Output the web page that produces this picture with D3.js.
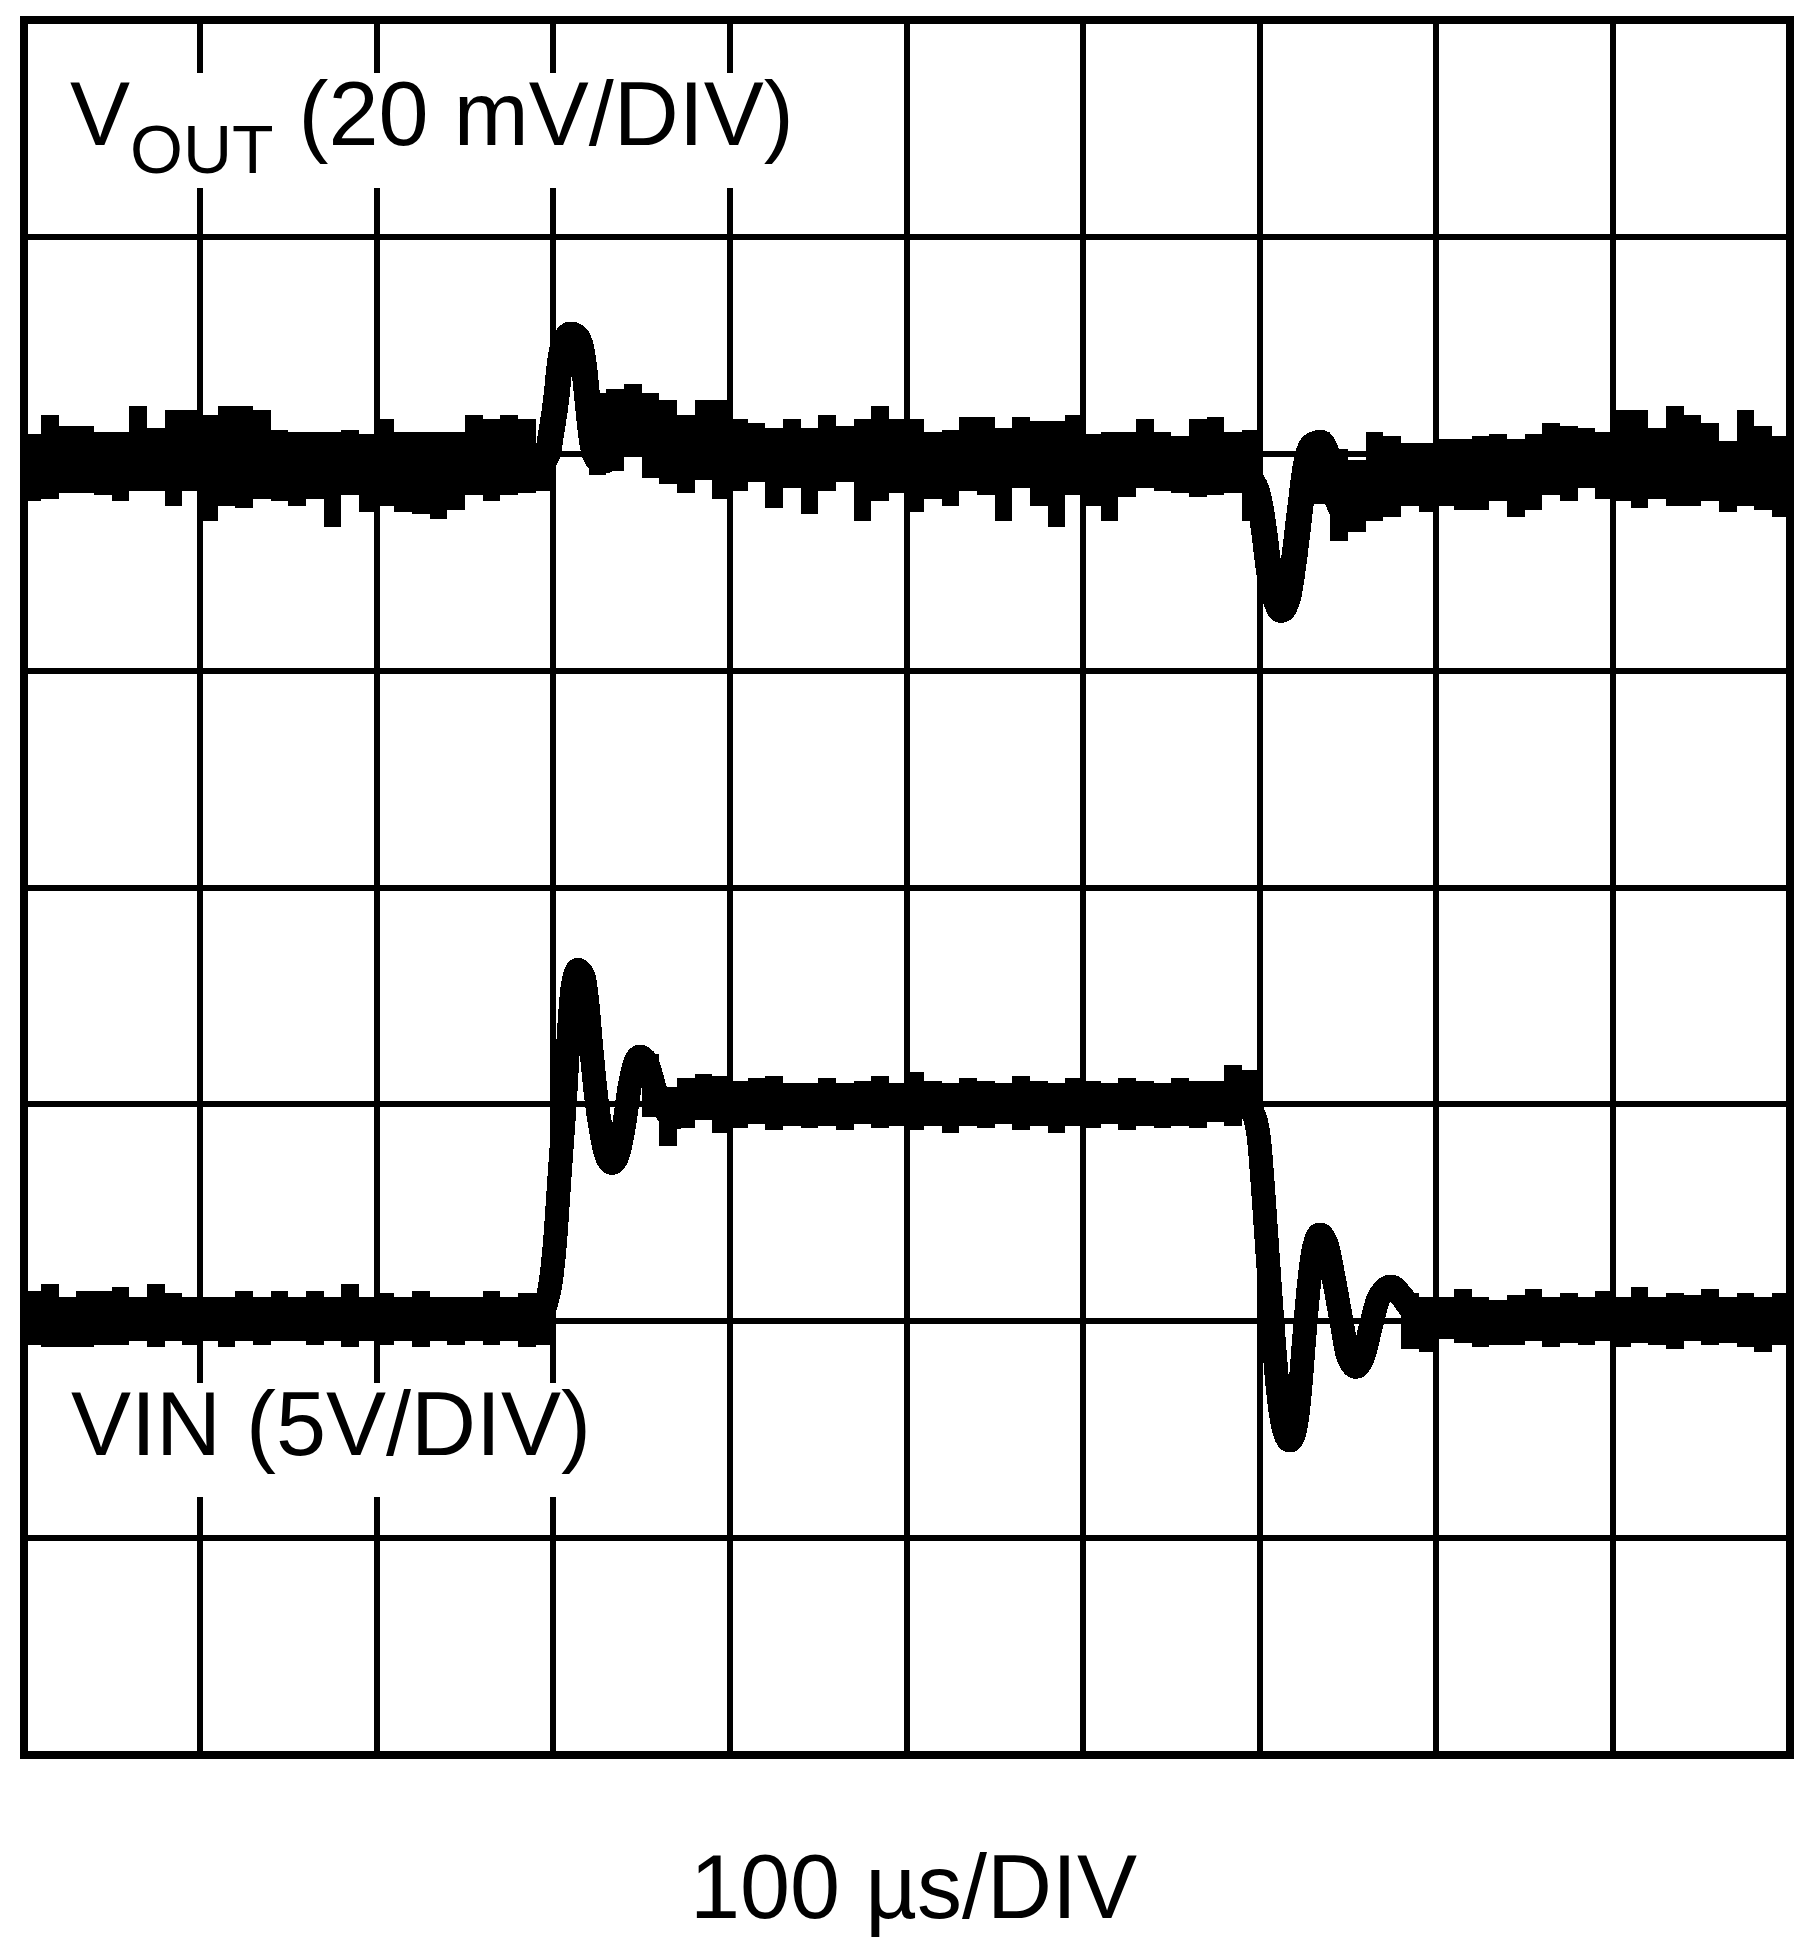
<!DOCTYPE html>
<html lang="en">
<head>
<meta charset="utf-8">
<title>Line transient response</title>
<script src="https://cdn.jsdelivr.net/npm/d3@7/dist/d3.min.js"></script>
<style>
  html, body { margin: 0; padding: 0; background: #fff; }
  svg { display: block; }
  text { font-family: "Liberation Sans", Arial, Helvetica, sans-serif; fill: #000; }
</style>
</head>
<body>
<div id="scope"></div>
<script>
// scope screen: 10 x 8 divisions. time in us (100 us/DIV), level in divisions from centre
var gridTimes = [100, 200, 300, 400, 500, 600, 700, 800, 900];
var gridLevels = [-3, -2, -1, 0, 1, 2, 3];

// VOUT noise band, 10 us bins: [t, top, bottom] (null = only the transient line there)
var voutBand = [
  [0, 2.09, 1.78], [10, 2.18, 1.79], [20, 2.13, 1.82], [30, 2.13, 1.82], [40, 2.10, 1.81],
  [50, 2.10, 1.78], [60, 2.22, 1.83], [70, 2.12, 1.83], [80, 2.20, 1.76], [90, 2.20, 1.83],
  [100, 2.18, 1.69], [110, 2.22, 1.76], [120, 2.22, 1.75], [130, 2.20, 1.79], [140, 2.11, 1.78],
  [150, 2.10, 1.76], [160, 2.10, 1.79], [170, 2.10, 1.66], [180, 2.11, 1.81], [190, 2.09, 1.73],
  [200, 2.16, 1.76], [210, 2.10, 1.73], [220, 2.10, 1.72], [230, 2.10, 1.70], [240, 2.10, 1.74],
  [250, 2.18, 1.81], [260, 2.16, 1.78], [270, 2.18, 1.81], [280, 2.16, 1.82], [290, 2.04, 1.83],
  [300, null, null], [310, null, null], [320, 2.28, 1.90], [330, 2.30, 1.92], [340, 2.32, 1.99],
  [350, 2.28, 1.89], [360, 2.25, 1.86], [370, 2.18, 1.82], [380, 2.25, 1.88], [390, 2.25, 1.79],
  [400, 2.16, 1.83], [410, 2.14, 1.87], [420, 2.12, 1.75], [430, 2.16, 1.84], [440, 2.12, 1.72],
  [450, 2.18, 1.83], [460, 2.13, 1.87], [470, 2.16, 1.69], [480, 2.22, 1.78], [490, 2.16, 1.82],
  [500, 2.16, 1.73], [510, 2.10, 1.79], [520, 2.11, 1.76], [530, 2.17, 1.83], [540, 2.17, 1.81],
  [550, 2.12, 1.69], [560, 2.17, 1.84], [570, 2.15, 1.76], [580, 2.15, 1.66], [590, 2.18, 1.81],
  [600, 2.09, 1.76], [610, 2.10, 1.69], [620, 2.10, 1.80], [630, 2.16, 1.84], [640, 2.10, 1.83],
  [650, 2.08, 1.82], [660, 2.16, 1.80], [670, 2.17, 1.81], [680, 2.10, 1.82], [690, 2.11, 1.69],
  [700, null, null], [710, null, null], [720, null, null], [730, 2.10, 1.77], [740, 2.02, 1.60],
  [750, 1.97, 1.64], [760, 2.10, 1.69], [770, 2.08, 1.71], [780, 2.05, 1.76], [790, 2.05, 1.73],
  [800, 2.07, 1.76], [810, 2.07, 1.74], [820, 2.08, 1.74], [830, 2.09, 1.78], [840, 2.07, 1.71],
  [850, 2.09, 1.74], [860, 2.14, 1.81], [870, 2.13, 1.78], [880, 2.12, 1.84], [890, 2.10, 1.79],
  [900, 2.20, 1.78], [910, 2.20, 1.75], [920, 2.12, 1.79], [930, 2.22, 1.76], [940, 2.18, 1.76],
  [950, 2.14, 1.78], [960, 2.06, 1.73], [970, 2.20, 1.76], [980, 2.13, 1.74], [990, 2.08, 1.71],
  [1000, 2.08, 1.71]
];

// VOUT transients (trace centre): [t, level]
var voutSpike = [
  [284, 1.96], [291, 1.96], [296.4, 1.99], [298.7, 2.09], [301.6, 2.25], [303.8, 2.42],
  [306.6, 2.52], [310, 2.55], [314, 2.53], [316.8, 2.44], [319.1, 2.27], [321.4, 2.09],
  [324.8, 1.98], [329.3, 1.97], [335, 2.04], [342.3, 2.13], [351.9, 2.12], [363.2, 2.04],
  [377.4, 2.02], [394.4, 1.98]
];
var voutDip = [
  [686, 1.93], [694, 1.89], [699.6, 1.79], [702.4, 1.65], [705.3, 1.46], [709, 1.33],
  [712.1, 1.28], [716.1, 1.34], [719.4, 1.51], [722.8, 1.74], [726.2, 1.95], [730.2, 2.04],
  [734.7, 2.05], [738.7, 1.98], [743.2, 1.81], [748.9, 1.73], [756.8, 1.76], [768.1, 1.81]
];

// VIN noise band, 10 us bins: [t, top, bottom]
var vinBand = [
  [0, -1.86, -2.11], [10, -1.83, -2.12], [20, -1.89, -2.12], [30, -1.86, -2.12], [40, -1.86, -2.11],
  [50, -1.84, -2.11], [60, -1.89, -2.09], [70, -1.83, -2.12], [80, -1.87, -2.09], [90, -1.89, -2.11],
  [100, -1.89, -2.09], [110, -1.89, -2.12], [120, -1.86, -2.09], [130, -1.89, -2.11], [140, -1.86, -2.09],
  [150, -1.89, -2.09], [160, -1.86, -2.11], [170, -1.89, -2.09], [180, -1.83, -2.12], [190, -1.89, -2.09],
  [200, -1.87, -2.11], [210, -1.89, -2.09], [220, -1.86, -2.12], [230, -1.89, -2.09], [240, -1.89, -2.11],
  [250, -1.89, -2.09], [260, -1.86, -2.11], [270, -1.89, -2.09], [280, -1.87, -2.12], [290, -1.88, -2.11],
  [300, null, null], [310, null, null], [320, null, null], [330, null, null], [340, null, null],
  [350, -0.77, -1.06], [360, -0.92, -1.19], [370, -0.88, -1.11], [380, -0.86, -1.07], [390, -0.87, -1.13],
  [400, -0.89, -1.11], [410, -0.88, -1.09], [420, -0.87, -1.12], [430, -0.90, -1.10], [440, -0.90, -1.11],
  [450, -0.88, -1.10], [460, -0.90, -1.12], [470, -0.89, -1.09], [480, -0.87, -1.11], [490, -0.90, -1.10],
  [500, -0.85, -1.12], [510, -0.89, -1.10], [520, -0.90, -1.13], [530, -0.88, -1.10], [540, -0.89, -1.11],
  [550, -0.90, -1.09], [560, -0.87, -1.12], [570, -0.89, -1.10], [580, -0.90, -1.13], [590, -0.88, -1.10],
  [600, -0.89, -1.11], [610, -0.90, -1.09], [620, -0.88, -1.12], [630, -0.89, -1.10], [640, -0.90, -1.11],
  [650, -0.88, -1.10], [660, -0.89, -1.11], [670, -0.89, -1.08], [680, -0.82, -1.10], [690, -0.84, -1.03],
  [700, null, null], [710, null, null], [720, null, null], [730, null, null], [740, null, null],
  [750, null, null], [760, null, null], [770, null, null], [780, -1.87, -2.13], [790, -1.89, -2.14],
  [800, -1.89, -2.08], [810, -1.85, -2.10], [820, -1.89, -2.12], [830, -1.90, -2.11], [840, -1.88, -2.11],
  [850, -1.85, -2.09], [860, -1.89, -2.12], [870, -1.87, -2.10], [880, -1.89, -2.11], [890, -1.86, -2.09],
  [900, -1.89, -2.12], [910, -1.84, -2.10], [920, -1.89, -2.11], [930, -1.87, -2.13], [940, -1.88, -2.09],
  [950, -1.85, -2.11], [960, -1.89, -2.10], [970, -1.87, -2.12], [980, -1.89, -2.14], [990, -1.87, -2.11],
  [1000, -1.87, -2.11]
];

// VIN edges with ringing (trace centre): [t, level]
var vinRise = [
  [286.8, -1.99], [292.5, -1.97], [295.9, -1.92], [298.7, -1.81], [301, -1.63], [303.8, -1.30],
  [306.6, -0.98], [308.9, -0.66], [311.1, -0.45], [314, -0.38], [317.4, -0.42], [319.1, -0.52],
  [321.4, -0.73], [324.2, -0.96], [327, -1.12], [329.9, -1.23], [333.3, -1.27], [336.6, -1.23],
  [340, -1.10], [343.4, -0.91], [346.3, -0.81], [349.1, -0.78], [353.1, -0.81], [357.6, -0.93],
  [362.7, -1.02], [369.5, -1.06], [376.3, -1.02], [383.1, -0.97], [393.3, -0.99], [402.9, -1.01]
];
var vinFall = [
  [680.3, -0.98], [688.8, -0.99], [696.2, -1.04], [699.6, -1.16], [701.9, -1.39], [704.7, -1.72],
  [707.5, -2.04], [710.4, -2.32], [713.2, -2.48], [717.1, -2.55], [720.5, -2.48], [722.8, -2.32],
  [725.1, -2.09], [727.9, -1.83], [730.8, -1.66], [734.1, -1.60], [738.1, -1.65], [742.1, -1.81],
  [746.1, -1.99], [750, -2.16], [754.5, -2.21], [759.1, -2.15], [763, -2.02], [767.6, -1.89],
  [774.4, -1.84], [780, -1.88], [786.2, -1.95], [793.6, -2.00], [804.9, -1.99]
];

var voutLabel = { main: "V", sub: "OUT", rest: " (20 mV/DIV)" };
var vinLabel = "VIN (5V/DIV)";
var timeLabel = "100 \u00b5s/DIV";

var W = 1809, H = 1953;
var scrL = 23.5, scrR = 1789.5, scrT = 20, scrB = 1755;

var x = d3.scaleLinear().domain([0, 1000]).range([scrL, scrR]);
var y = d3.scaleLinear().domain([-4, 4]).range([scrB, scrT]);

var svg = d3.select("#scope")
  .append("svg")
  .attr("width", W)
  .attr("height", H);

svg.append("rect").attr("width", W).attr("height", H).attr("fill", "#fff");

svg.append("defs").append("clipPath").attr("id", "screen")
  .append("rect")
  .attr("x", scrL).attr("y", scrT)
  .attr("width", scrR - scrL).attr("height", scrB - scrT);

// graticule
var grid = svg.append("g")
  .attr("stroke", "#000")
  .attr("stroke-width", 6)
  .attr("shape-rendering", "crispEdges");
grid.selectAll("line.v")
  .data(gridTimes)
  .enter().append("line")
  .attr("class", "v")
  .attr("x1", function(d) { return x(d); })
  .attr("x2", function(d) { return x(d); })
  .attr("y1", scrT).attr("y2", scrB);
grid.selectAll("line.h")
  .data(gridLevels)
  .enter().append("line")
  .attr("class", "h")
  .attr("y1", function(d) { return y(d); })
  .attr("y2", function(d) { return y(d); })
  .attr("x1", scrL).attr("x2", scrR);

// white boxes behind channel labels
svg.append("rect").attr("x", 27).attr("y", 73).attr("width", 775).attr("height", 115).attr("fill", "#fff");
svg.append("rect").attr("x", 27).attr("y", 1383).attr("width", 570).attr("height", 114).attr("fill", "#fff");

// traces
var traces = svg.append("g")
  .attr("clip-path", "url(#screen)")
  .attr("shape-rendering", "crispEdges");

// turn the binned band into closed step polygons
function bandPolys(rows) {
  var polys = [], cur = null;
  for (var i = 0; i < rows.length - 1; i++) {
    var r = rows[i], t1 = rows[i + 1][0];
    if (r[1] == null) { cur = null; continue; }
    if (!cur) { cur = { hi: [], lo: [] }; polys.push(cur); }
    cur.hi.push([r[0], r[1]], [t1, r[1]]);
    cur.lo.push([r[0], r[2]], [t1, r[2]]);
  }
  return polys.map(function(p) { return p.hi.concat(p.lo.reverse()); });
}

var poly = d3.line()
  .x(function(d) { return x(d[0]); })
  .y(function(d) { return y(d[1]); });

var smooth = d3.line()
  .x(function(d) { return x(d[0]); })
  .y(function(d) { return y(d[1]); })
  .curve(d3.curveMonotoneX);

[voutBand, vinBand].forEach(function(band) {
  traces.selectAll(null)
    .data(bandPolys(band))
    .enter().append("path")
    .attr("d", function(d) { return poly(d) + "Z"; })
    .attr("fill", "#000");
});

[[voutSpike, 26], [voutDip, 26], [vinRise, 24], [vinFall, 24]].forEach(function(s) {
  traces.append("path")
    .datum(s[0])
    .attr("d", smooth)
    .attr("fill", "none")
    .attr("stroke", "#000")
    .attr("stroke-width", s[1])
    .attr("stroke-linejoin", "round")
    .attr("stroke-linecap", "round");
});

// labels
var vt = svg.append("text").attr("x", 70).attr("y", 145).attr("font-size", 90);
vt.append("tspan").text(voutLabel.main);
vt.append("tspan").attr("font-size", 68).attr("dy", 28).text(voutLabel.sub);
vt.append("tspan").attr("dy", -28).text(voutLabel.rest);

svg.append("text").attr("x", 71).attr("y", 1455).attr("font-size", 90).text(vinLabel);

svg.append("text").attr("x", 690).attr("y", 1918).attr("font-size", 90).text(timeLabel);

// frame
svg.append("rect")
  .attr("x", scrL).attr("y", scrT)
  .attr("width", scrR - scrL).attr("height", scrB - scrT)
  .attr("fill", "none")
  .attr("stroke", "#000")
  .attr("stroke-width", 8)
  .attr("shape-rendering", "crispEdges");
</script>
</body>
</html>
